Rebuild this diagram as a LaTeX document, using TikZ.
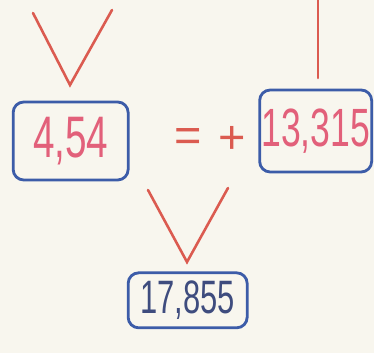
\documentclass[tikz,border=0pt]{standalone}
\usepackage{fontspec}
\usepackage{graphicx}
\setmainfont{Liberation Sans}
\usetikzlibrary{positioning}

\definecolor{paper}{HTML}{F8F6EE}
\definecolor{penred}{HTML}{DB5B50}
\definecolor{penpink}{HTML}{E2607A}
\definecolor{boxblue}{HTML}{3C5CA8}
\definecolor{inkblue}{HTML}{3E4C7E}

\newcommand{\hand}[1]{\scalebox{0.66}[1]{#1}}

\begin{document}
\begin{tikzpicture}[
  numbox/.style={rectangle, draw=boxblue, line width=2.4pt, rounded corners=9pt, inner sep=0pt, font=\fontsize{50}{50}\selectfont},
  stroke/.style={draw=penred, line width=2.2pt, line cap=round},
  sign/.style={text=penred, font=\fontsize{40}{40}\selectfont, inner sep=0pt}
]
  \fill[paper] (0,0) rectangle (11.22,10.59);
  \useasboundingbox (0,0) rectangle (11.22,10.59);

  % boxes
  \node[numbox, minimum width=3.45cm, minimum height=2.34cm, text=penpink] (left) at (2.12,6.36) {\hand{4,54}};
  \node[numbox, minimum width=3.36cm, minimum height=2.46cm, text=penpink, font=\fontsize{46}{46}\selectfont] (right) at (9.47,6.66) {\hand{13,315}};
  \node[numbox, minimum width=3.57cm, minimum height=1.65cm, text=inkblue, font=\fontsize{40}{40}\selectfont] (sum) at (5.63,1.58) {\hand{17,855}};

  \node[sign] (eq) at (5.64,6.4) {=};
  \node[sign, right=0.5cm of eq] (plus) {+};

  % strokes
  \coordinate (tl) at (0.99,10.2);
  \coordinate (tv) at (2.1,8.04);
  \coordinate (tr) at (3.36,10.29);
  \coordinate (rtop) at (9.54,10.59);
  \coordinate (rbot) at (9.54,8.25);
  \coordinate (ml) at (4.44,4.89);
  \coordinate (mv) at (5.61,2.73);
  \coordinate (mr) at (6.84,4.95);

  \draw[stroke] (tl) -- (tv) -- (tr);
  \draw[stroke] (rtop) -- (rbot);
  \draw[stroke] (ml) -- (mv) -- (mr);
\end{tikzpicture}
\end{document}
